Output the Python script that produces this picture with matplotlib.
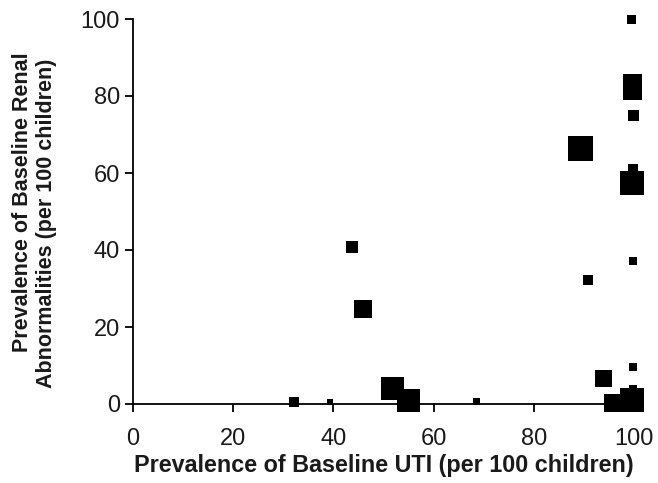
import matplotlib
matplotlib.use("Agg")
import matplotlib.pyplot as plt

plt.rcParams['font.family'] = ['Liberation Sans', 'DejaVu Sans']

# Data (x: UTI prevalence, y: renal abnormality prevalence)
uti = [99.6, 99.7, 99.7, 99.9, 89.3, 99.8, 99.6, 99.8, 90.8, 99.8, 93.9,
       99.8, 95.8, 99.7, 43.8, 45.9, 51.8, 54.9, 32.2, 39.4, 68.5]
renal = [100.0, 83.2, 81.4, 75.0, 66.4, 61.0, 57.4, 37.1, 32.3, 9.6, 6.5,
         4.0, 0.3, 1.0, 40.8, 24.7, 4.0, 0.9, 0.5, 0.6, 0.6]
# marker side in pixels (study weight)
side_px = [9, 19, 19, 11, 25, 10, 24, 8, 10, 8, 17,
           8, 18, 24, 12, 18, 23, 23, 10, 6, 7]

xticks = [0, 20, 40, 60, 80, 100]
yticks = [0, 20, 40, 60, 80, 100]

W, H = 658, 483
dpi = 100
fig = plt.figure(figsize=(W/dpi, H/dpi), dpi=dpi)
ax = fig.add_axes([133/W, 1-404/H, (634-133)/W, (404-19)/H])

sizes = [(p*72/dpi)**2 for p in side_px]
ax.scatter(uti, renal, s=sizes, marker='s', color='black', linewidths=0,
           zorder=5, clip_on=False)

ax.set_xlim(0, 100)
ax.set_ylim(0, 100)
ax.set_xticks(xticks)
ax.set_yticks(yticks)
for s in ['top', 'right']:
    ax.spines[s].set_visible(False)
for s in ['left', 'bottom']:
    ax.spines[s].set_linewidth(1.3)
    ax.spines[s].set_color('black')

ax.tick_params(axis='both', direction='out', length=6, width=1.3,
               labelsize=17, labelcolor='#1a1a1a')
ax.tick_params(axis='x', pad=11)
ax.tick_params(axis='y', pad=3.5)

ax.set_xlabel('Prevalence of Baseline UTI (per 100 children)', fontsize=16.8,
              fontweight='bold', color='#1a1a1a', labelpad=3)

fig.text(23/W, 1-202/H, 'Prevalence of Baseline Renal', rotation=90,
         ha='center', va='center', fontsize=15.5, fontweight='bold',
         color='#1a1a1a')
fig.text(47/W, 1-223/H, 'Abnormalities (per 100 children)', rotation=90,
         ha='center', va='center', fontsize=15.5, fontweight='bold',
         color='#1a1a1a')

fig.savefig('out.png', dpi=dpi)
